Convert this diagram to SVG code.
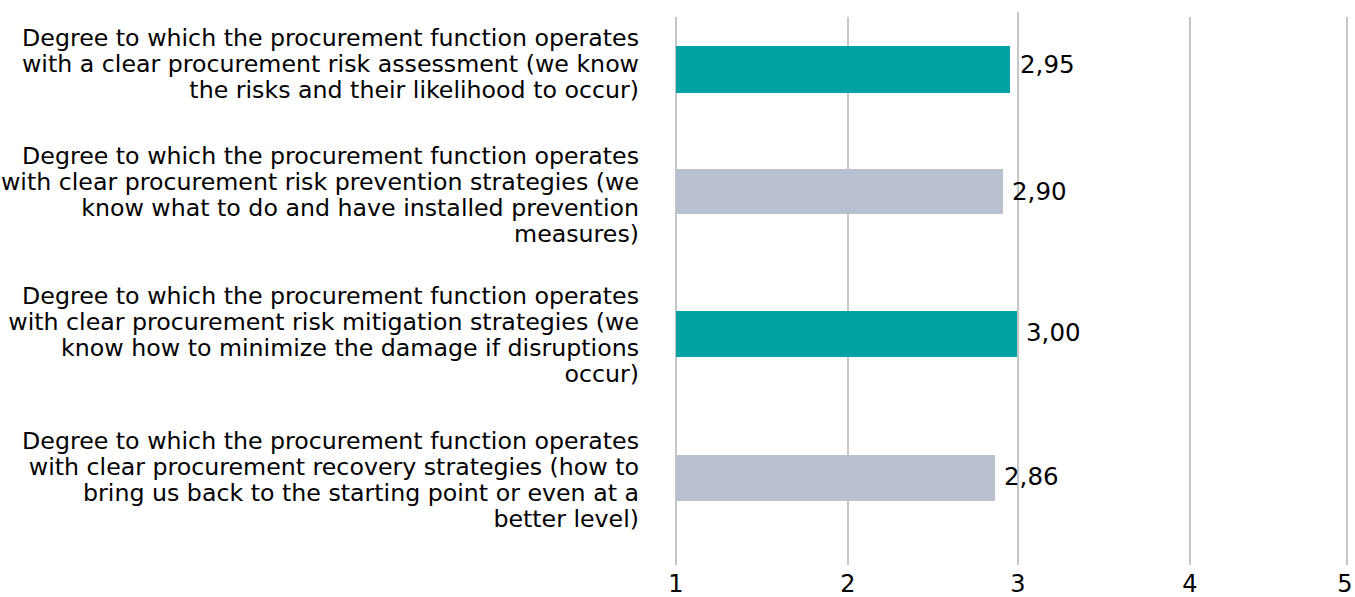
<svg xmlns="http://www.w3.org/2000/svg" width="1355" height="597" viewBox="0 0 1355 597">
<style>
.lbl{font-family:"DejaVu Sans","Liberation Sans",sans-serif;font-size:23.7px;fill:#000;text-anchor:end}
.val{font-family:"DejaVu Sans","Liberation Sans",sans-serif;font-size:24.5px;fill:#000}
.ax{font-family:"DejaVu Sans","Liberation Sans",sans-serif;font-size:24px;fill:#000;text-anchor:middle}
.grid{stroke:#A0A0A0;stroke-width:1.2}
.teal{fill:#00A2A4}
.gray{fill:#B9C0D0}
</style>
<rect width="1355" height="597" fill="#fff"/>
<g id="grid">
<line class="grid" x1="676" y1="17" x2="676" y2="565"/>
<line class="grid" x1="848" y1="17" x2="848" y2="565"/>
<line class="grid" x1="1018" y1="12" x2="1018" y2="565"/>
<line class="grid" x1="1190" y1="17" x2="1190" y2="565"/>
<line class="grid" x1="1347" y1="17" x2="1347" y2="565"/>
</g>
<g id="axis">
<text class="ax" x="676" y="592">1</text>
<text class="ax" x="848" y="592">2</text>
<text class="ax" x="1018" y="592">3</text>
<text class="ax" x="1190" y="592">4</text>
<text class="ax" x="1345" y="592">5</text>
</g>
<g id="bar1">
<rect class="teal" x="676" y="46" width="334" height="47"/>
<text class="val" x="1020" y="73">2,95</text>
<text class="lbl" x="639" y="46">Degree to which the procurement function operates</text>
<text class="lbl" x="639" y="72">with a clear procurement risk assessment (we know</text>
<text class="lbl" x="639" y="98">the risks and their likelihood to occur)</text>
</g>
<g id="bar2">
<rect class="gray" x="676" y="169" width="327" height="45"/>
<text class="val" x="1012" y="200">2,90</text>
<text class="lbl" x="639" y="164">Degree to which the procurement function operates</text>
<text class="lbl" x="639" y="190">with clear procurement risk prevention strategies (we</text>
<text class="lbl" x="639" y="216">know what to do and have installed prevention</text>
<text class="lbl" x="639" y="242">measures)</text>
</g>
<g id="bar3">
<rect class="teal" x="676" y="311" width="341" height="46"/>
<text class="val" x="1026" y="341">3,00</text>
<text class="lbl" x="639" y="304">Degree to which the procurement function operates</text>
<text class="lbl" x="639" y="330">with clear procurement risk mitigation strategies (we</text>
<text class="lbl" x="639" y="356">know how to minimize the damage if disruptions</text>
<text class="lbl" x="639" y="382">occur)</text>
</g>
<g id="bar4">
<rect class="gray" x="676" y="455" width="319" height="46"/>
<text class="val" x="1004" y="485">2,86</text>
<text class="lbl" x="639" y="449">Degree to which the procurement function operates</text>
<text class="lbl" x="639" y="475">with clear procurement recovery strategies (how to</text>
<text class="lbl" x="639" y="501">bring us back to the starting point or even at a</text>
<text class="lbl" x="639" y="527">better level)</text>
</g>
</svg>
